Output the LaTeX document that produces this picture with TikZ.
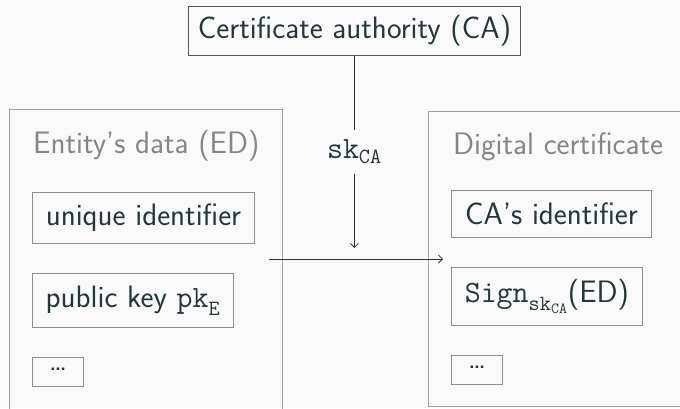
\documentclass[tikz,border=0pt]{standalone}
\usepackage{fontspec}
\usetikzlibrary{arrows.meta}
\definecolor{bgcol}{HTML}{FAFAFA}
\definecolor{ink}{HTML}{23373B}
\definecolor{frame}{HTML}{A0A0A0}
\definecolor{innerframe}{HTML}{8E8E8E}
\definecolor{cafr}{HTML}{555555}
\definecolor{muted}{HTML}{858585}
\newcommand{\diagfont}{\sffamily\addfontfeatures{Ligatures=NoCommon}\fontsize{31}{37}\selectfont}
\tikzset{
  every node/.style={font=\diagfont, text=ink},
  outerbox/.style={draw=frame, line width=1pt, anchor=north west, inner sep=0pt},
  itembox/.style={draw=innerframe, line width=0.9pt, anchor=north west, inner sep=0pt},
  titletext/.style={anchor=base west, text=muted, inner sep=0pt},
  flow/.style={draw=ink, line width=0.8pt},
  tip/.style={-{Straight Barb[length=4pt,width=8pt,line width=0.8pt]}}
}
\begin{document}
\begin{tikzpicture}[x=1pt,y=-1pt]
  \useasboundingbox[fill=bgcol] (0,0) rectangle (680,408);

  % issuing authority
  \node[itembox, draw=cafr, minimum width=332pt, minimum height=49pt] (ca) at (188,6) {Certificate authority (CA)};

  % left container: the entity's data
  \node[outerbox, minimum width=273pt, minimum height=320pt] (ed) at (9,109) {};
  \node[titletext] (edt) at (33,153) {Entity's data (ED)};
  \node[itembox, minimum width=222pt, minimum height=51pt] (uid) at (32,192) {unique identifier};
  \node[itembox, minimum width=201pt, minimum height=54pt] (pk) at (32,273) {public key $\mathtt{pk}_{\mathtt{E}}$};
  \node[itembox, minimum width=51pt, minimum height=29pt] (edd) at (32,357) {\raisebox{5pt}{\dots}};

  % right container: the resulting certificate
  \node[outerbox, minimum width=270pt, minimum height=295pt] (dc) at (428,111) {};
  \node[titletext] (dct) at (453,154) {Digital certificate};
  \node[itembox, minimum width=200pt, minimum height=47pt] (cid) at (451,190) {CA's identifier};
  \node[itembox, minimum width=191pt, minimum height=58pt] (sig) at (451,267) {$\mathtt{Sign}_{\mathtt{sk}_{\mathtt{CA}}}$(ED)};
  \node[itembox, minimum width=51pt, minimum height=29pt] (dcd) at (451,355) {\raisebox{5pt}{\dots}};

  % signing key and the signing flow
  \node[inner sep=0pt, minimum height=43pt] (sk) at (ca.south |- 0,152) {$\mathtt{sk}_{\mathtt{CA}}$};
  \coordinate (keyin) at (ca.south |- 0,248);
  \coordinate (src) at (269,259);
  \coordinate (dst) at (443,259);

  \draw[flow] (ca.south) -- (sk.north);
  \draw[flow, tip] (sk.south) -- (keyin);
  \draw[flow, tip] (src) -- (dst);
\end{tikzpicture}
\end{document}
